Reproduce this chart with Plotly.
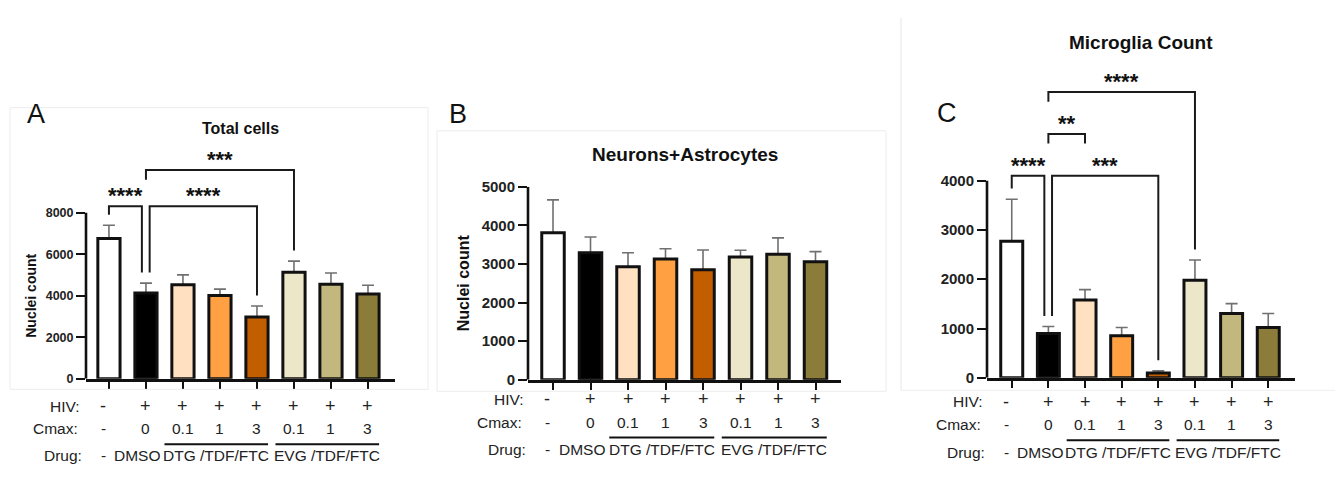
import plotly.graph_objects as go

W, H = 1344, 481
PAGE_OFFSET = 8  # the page body margin shifts the figure by 8 px
FONT = "Liberation Sans, Arial, sans-serif"

# ---- data ----
categories = ["Mock", "DMSO", "DTG 0.1", "DTG 1", "DTG 3", "EVG 0.1", "EVG 1", "EVG 3"]
hiv = ["-", "+", "+", "+", "+", "+", "+", "+"]
cmax = ["-", "0", "0.1", "1", "3", "0.1", "1", "3"]
drugs = ["-", "DMSO", "DTG /TDF/FTC", "EVG /TDF/FTC"]
drug_spans = [(0, 0), (1, 1), (2, 4), (5, 7)]
bar_colors = ["#FFFFFF", "#000000", "#FFE1C2", "#FFA142", "#C25E00", "#EDE7C9", "#C2B77C", "#8C7C3A"]

total_mean = [6760, 4130, 4530, 4010, 2980, 5130, 4560, 4090]
total_err = [640, 480, 480, 310, 525, 540, 540, 420]
neuro_mean = [3810, 3290, 2930, 3130, 2850, 3180, 3250, 3060]
neuro_err = [850, 410, 360, 265, 510, 175, 425, 260]
micro_mean = [2770, 900, 1580, 855, 95, 1980, 1305, 1020]
micro_err = [855, 140, 210, 165, 45, 410, 200, 285]

# significance: (from bar, to bar, bracket height, label)
total_sig = [(0, 1, 8320, "****"), (1, 4, 8320, "****"), (1, 5, 10060, "***")]
neuro_sig = []
micro_sig = [(0, 1, 4100, "****"), (1, 4, 4100, "***"), (1, 2, 4950, "**"), (1, 5, 5800, "****")]

# ---- panel geometry (pixels of the 1344x481 page) ----
panels = [
    dict(mean=total_mean, err=total_err, sig=total_sig,
         x0=86, x1=395, xr=[-0.62, 7.73], zero=383, ppu=172 / 8000, ytop=11000,
         ticks=[0, 2000, 4000, 6000, 8000], tick_size=12.5,
         title="Total cells", title_y=124, title_size=16,
         letter="A", letter_xy=(36, 109), ytitle="Nuclei count", ytitle_x=31, ytitle_size=14,
         rows=(411.7, 435, 463, 451), box=(10, 102, 428, 394)),
    dict(mean=neuro_mean, err=neuro_err, sig=neuro_sig,
         x0=528, x1=841, xr=[-0.667, 7.68], zero=384, ppu=200 / 5000, ytop=5000,
         ticks=[0, 1000, 2000, 3000, 4000, 5000], tick_size=15,
         title="Neurons+Astrocytes", title_y=151, title_size=19,
         letter="B", letter_xy=(458, 109), ytitle="Nuclei count", ytitle_x=463, ytitle_size=16,
         rows=(404, 428, 456, 444), box=(437, 126, 886, 396)),
    dict(mean=micro_mean, err=micro_err, sig=micro_sig,
         x0=987, x1=1295, xr=[-0.675, 7.73], zero=382, ppu=204.3 / 4000, ytop=6300,
         ticks=[0, 1000, 2000, 3000, 4000], tick_size=15,
         title="Microglia Count", title_y=34, title_size=19,
         letter="C", letter_xy=(947, 108), ytitle=None,
         rows=(406.7, 430.7, 459, 446.7), box=None),
]


def px(x):
    return (x - PAGE_OFFSET) / W


def py(y):
    return 1 - (y - PAGE_OFFSET) / H


fig = go.Figure()
shapes = []
annotations = []

for k, p in enumerate(panels, start=1):
    xa = "x" if k == 1 else f"x{k}"
    ya = "y" if k == 1 else f"y{k}"
    # error bars first, so the coloured bars hide their lower half
    fig.add_trace(go.Bar(
        x=categories, y=p["mean"], xaxis=xa, yaxis=ya, width=0.6,
        marker=dict(color="rgba(0,0,0,0)", line=dict(width=0)),
        error_y=dict(type="data", array=p["err"], color="#707070", thickness=1.6, width=6),
        showlegend=False, hoverinfo="skip"))
    fig.add_trace(go.Bar(
        x=categories, y=p["mean"], xaxis=xa, yaxis=ya, width=0.6,
        marker=dict(color=bar_colors, line=dict(color="#111111", width=3)),
        showlegend=False))

    top_px = p["zero"] - p["ytop"] * p["ppu"]
    fig.layout[f"xaxis{'' if k == 1 else k}"] = dict(
        domain=[px(p["x0"]), px(p["x1"])], range=p["xr"], anchor=ya,
        showline=True, linecolor="#111111", linewidth=2.6,
        ticks="outside", ticklen=7, tickwidth=2, tickcolor="#111111",
        showticklabels=False, showgrid=False, zeroline=False)
    fig.layout[f"yaxis{'' if k == 1 else k}"] = dict(
        domain=[py(p["zero"]), py(top_px)], range=[0, p["ytop"]], anchor=xa,
        tickvals=p["ticks"], ticks="outside", ticklen=9, tickwidth=2, tickcolor="#111111",
        tickfont=dict(family=FONT, size=p["tick_size"], color="#222222", weight="bold"),
        showline=False, showgrid=False, zeroline=False)

    # y axis line only up to the last tick
    shapes.append(dict(type="line", xref=f"{xa} domain", yref=ya, x0=0, x1=0,
                       y0=0, y1=p["ticks"][-1], line=dict(color="#111111", width=2.6)))

    # significance brackets
    gap = 11 / p["ppu"]
    short = 10 / p["ppu"]
    for (i, j, h, lab) in p["sig"]:
        xi, xj = i, j
        for (a, b, h2, _) in p["sig"]:
            if h2 == h and a == j:
                xj = j - 0.11
            if h2 == h and b == i:
                xi = i + 0.1
        legs = []
        for bar in (i, j):
            covered = any(a <= bar <= b and h2 < h for (a, b, h2, _) in p["sig"])
            if covered:
                legs.append(h - short)
            else:
                legs.append(p["mean"][bar] + p["err"][bar] + gap)
        path = f"M {xi},{legs[0]} L {xi},{h} L {xj},{h} L {xj},{legs[1]}"
        shapes.append(dict(type="path", xref=xa, yref=ya, path=path,
                           line=dict(color="#1a1a1a", width=2)))
        annotations.append(dict(xref=xa, yref=ya, x=(xi + xj) / 2, y=h, text=lab,
                                showarrow=False, yanchor="bottom", yshift=-4,
                                font=dict(family=FONT, size=22, color="#111111", weight="bold")))

    # title, panel letter, y title
    annotations.append(dict(xref=f"{xa} domain", yref="paper", x=0.5, y=py(p["title_y"]),
                            text=p["title"], showarrow=False, yanchor="middle",
                            font=dict(family=FONT, size=p["title_size"], color="#111111", weight="bold")))
    lx, ly = p["letter_xy"]
    annotations.append(dict(xref="paper", yref="paper", x=px(lx), y=py(ly), text=p["letter"],
                            showarrow=False, xanchor="center", yanchor="middle",
                            font=dict(family=FONT, size=27, color="#111111")))
    if p["ytitle"]:
        mid = p["zero"] - p["ticks"][-1] * p["ppu"] / 2
        annotations.append(dict(xref="paper", yref="paper", x=px(p["ytitle_x"]), y=py(mid),
                                text=p["ytitle"], textangle=-90, showarrow=False,
                                xanchor="center", yanchor="middle",
                                font=dict(family=FONT, size=p["ytitle_size"], color="#111111", weight="bold")))

    # condition rows under the axis
    def cat_px(pos, p=p):
        r0, r1 = p["xr"]
        return p["x0"] + (pos - r0) / (r1 - r0) * (p["x1"] - p["x0"])

    r_hiv, r_cmax, r_drug, r_line = p["rows"]
    lab_font = dict(family=FONT, size=15.5, color="#222222")
    sign_font = dict(family=FONT, size=18, color="#222222")
    for head, row, off in (("HIV:", r_hiv, -0.72), ("Cmax:", r_cmax, -0.78), ("Drug:", r_drug, -0.68)):
        annotations.append(dict(xref="paper", yref="paper", x=px(cat_px(off)), y=py(row), text=head,
                                showarrow=False, xanchor="right", yanchor="middle", font=lab_font))
    for idx in range(len(categories)):
        shift = -0.15 if idx == 0 else 0
        annotations.append(dict(xref=xa, yref="paper", x=idx + shift, y=py(r_hiv), text=hiv[idx],
                                showarrow=False, yanchor="middle", font=sign_font))
        annotations.append(dict(xref=xa, yref="paper", x=idx + shift, y=py(r_cmax), text=cmax[idx],
                                showarrow=False, yanchor="middle", font=lab_font))
    for name, (a, b) in zip(drugs, drug_spans):
        if a == b:
            xc = a - 0.15 if a == 0 else a - 0.22
        else:
            l0, l1 = a - 0.5, b + 0.3
            xc = (l0 + l1) / 2
            shapes.append(dict(type="line", xref=xa, yref="paper", x0=l0, x1=l1,
                               y0=py(r_line), y1=py(r_line), line=dict(color="#111111", width=2)))
        annotations.append(dict(xref=xa, yref="paper", x=xc, y=py(r_drug), text=name,
                                showarrow=False, yanchor="middle", font=lab_font))

    # faint panel frame
    if p["box"]:
        bx0, by0, bx1, by1 = p["box"]
        shapes.append(dict(type="rect", xref="paper", yref="paper", x0=px(bx0), x1=px(bx1),
                           y0=py(by1), y1=py(by0), line=dict(color="#ececec", width=1)))

# panel C frame: left and bottom edges only
shapes.append(dict(type="line", xref="paper", yref="paper", x0=px(901), x1=px(901),
                   y0=py(395), y1=py(9), line=dict(color="#e6e6e6", width=1)))
shapes.append(dict(type="line", xref="paper", yref="paper", x0=px(901), x1=px(1335),
                   y0=py(395), y1=py(395), line=dict(color="#eeeeee", width=1)))

fig.update_layout(
    width=W, height=H, margin=dict(l=0, r=0, t=0, b=0),
    paper_bgcolor="white", plot_bgcolor="white",
    barmode="overlay", showlegend=False,
    shapes=shapes, annotations=annotations,
    font=dict(family=FONT, color="#222222"),
)

fig.write_html("out.html")
